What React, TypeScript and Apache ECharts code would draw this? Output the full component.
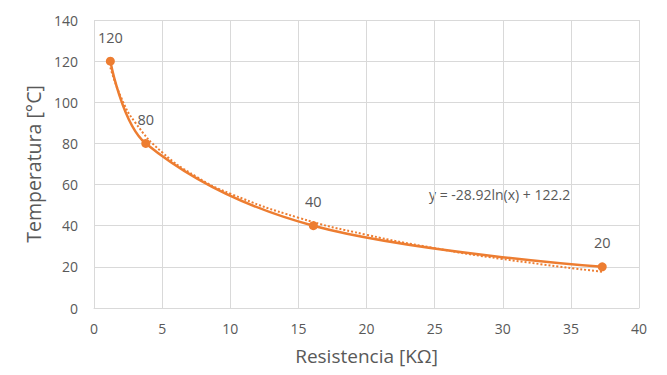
import React, { useEffect, useRef } from "react";
import * as echarts from "echarts";

const resistance = [1.2, 3.8, 16.1, 37.3];
const temperature = [120, 80, 40, 20];
const trendX = [1.2, 2, 3, 5, 7.5, 10, 15, 20, 25, 30, 37.3];
const trendY = [116.9, 102.2, 90.4, 75.7, 63.9, 55.6, 43.9, 35.6, 29.1, 23.8, 17.6];
const equationText = "y = -28.92ln(x) + 122.2";

const ORANGE = "#ED7D31";
const TEXT = "#595959";
const GRIDC = "#D9D9D9";
const FONT = "'Open Sans', 'Liberation Sans', sans-serif";

export default function App() {
  const ref = useRef<HTMLDivElement>(null);
  useEffect(() => {
    if (!ref.current) return;
    const chart = echarts.init(ref.current, null, { renderer: "svg" });
    chart.setOption({
      animation: false,
      backgroundColor: "#ffffff",
      grid: { left: 94, right: 28, top: 20, bottom: 67 },
      xAxis: {
        type: "value",
        min: 0,
        max: 40,
        interval: 5,
        name: "Resistencia [KΩ]",
        nameLocation: "middle",
        nameGap: 38,
        nameTextStyle: { color: TEXT, fontSize: 19, fontFamily: FONT },
        axisLine: { show: true, lineStyle: { color: GRIDC, width: 1 } },
        axisTick: { show: false },
        axisLabel: { color: TEXT, fontSize: 14, fontFamily: FONT, margin: 13 },
        splitLine: { show: true, lineStyle: { color: GRIDC, width: 1 } },
      },
      yAxis: {
        type: "value",
        min: 0,
        max: 140,
        interval: 20,
        name: "Temperatura [°C]",
        nameLocation: "middle",
        nameGap: 50,
        nameTextStyle: { color: TEXT, fontSize: 19.5, fontFamily: FONT },
        axisLine: { show: false },
        axisTick: { show: false },
        axisLabel: { color: TEXT, fontSize: 14, fontFamily: FONT, margin: 16 },
        splitLine: { show: true, lineStyle: { color: GRIDC, width: 1 } },
      },
      series: [
        {
          type: "line",
          data: trendX.map((x, i) => [x, trendY[i]]),
          smooth: true,
          symbol: "none",
          lineStyle: { color: ORANGE, width: 2, type: [2, 2] },
          z: 1,
        },
        {
          type: "line",
          data: resistance.map((x, i) => [x, temperature[i]]),
          smooth: 0.35,
          symbol: "circle",
          symbolSize: 9,
          itemStyle: { color: ORANGE },
          lineStyle: { color: ORANGE, width: 2.5 },
          label: {
            show: true,
            position: "top",
            distance: 12,
            color: TEXT,
            fontSize: 14.5,
            fontFamily: FONT,
          },
          z: 2,
        },
      ],
      graphic: [
        {
          type: "text",
          left: 429,
          top: 187,
          style: { text: equationText, fill: TEXT, fontSize: 14, fontFamily: FONT },
        },
      ],
    });
    return () => chart.dispose();
  }, []);
  return (
    <div
      ref={ref}
      style={{ position: "fixed", left: 0, top: 0, width: 667, height: 375 }}
    />
  );
}
